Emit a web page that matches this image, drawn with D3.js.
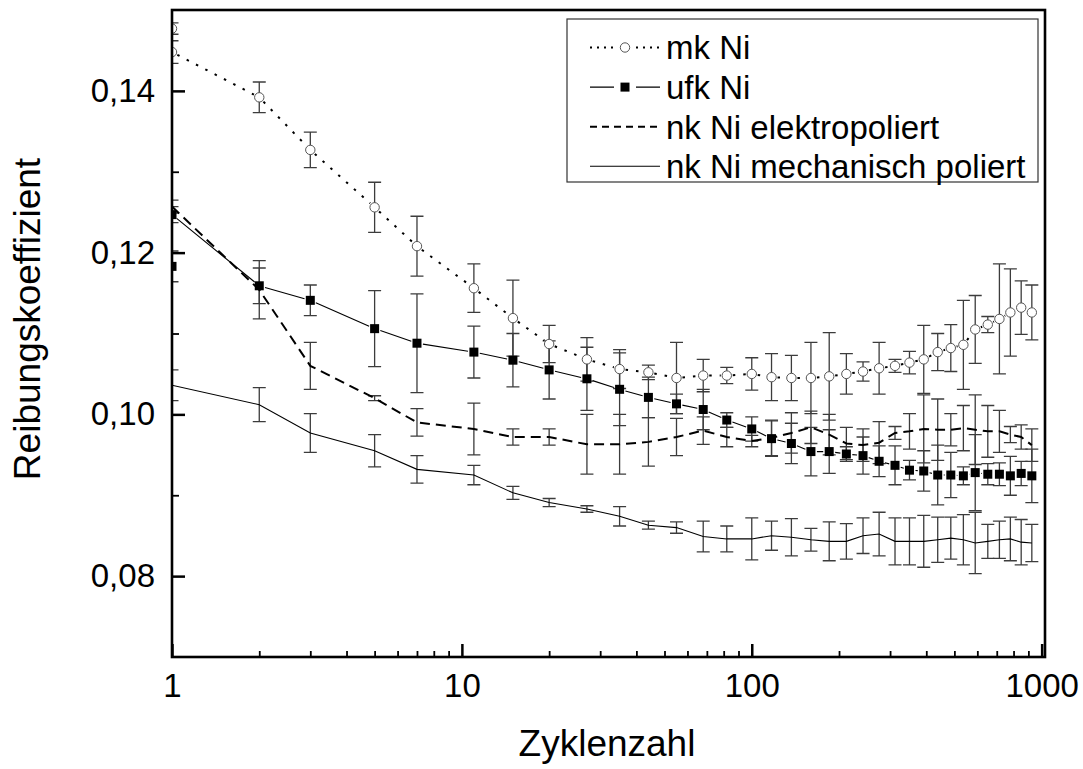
<!DOCTYPE html>
<html>
<head>
<meta charset="utf-8">
<script src="https://cdn.jsdelivr.net/npm/d3@7"></script>
<style>
  body { margin: 0; background: #fff; }
  svg { display: block; font-family: Arial, "Liberation Sans", sans-serif; }
</style>
</head>
<body>
<svg id="chart" width="1083" height="769"></svg>
<script>
/* CONSTANTS AND GLOBALS */
const width = 1083,
  height = 769,
  margin = { top: 10, right: 38, bottom: 112, left: 172 };

/* DATA */
// cycle numbers (Zyklenzahl) where the friction was measured
const cycles = [1, 2, 3, 5, 7, 11, 15, 20, 27, 35, 44, 55, 68, 82, 100, 117, 137, 160, 185,
  212, 242, 275, 312, 350, 392, 438, 486, 537, 590, 652, 715, 780, 850, 925];
// mk Ni and ufk Ni have two readings at cycle 1
const cyclesTwin = [1].concat(cycles);

const mkNi = [0.1477, 0.1448, 0.1392, 0.1327, 0.1256, 0.1208, 0.1156, 0.1119, 0.1087, 0.1068,
  0.1056, 0.1052, 0.1045, 0.1048, 0.1048, 0.1050, 0.1046, 0.1045, 0.1045, 0.1047, 0.1050,
  0.1053, 0.1057, 0.1060, 0.1064, 0.1068, 0.1077, 0.1082, 0.1086, 0.1105, 0.1111, 0.1118,
  0.1126, 0.1132, 0.1126];
const mkNiErr = [0.0007, 0.0014, 0.0019, 0.0022, 0.0031, 0.0037, 0.0030, 0.0047, 0.0023, 0.0027,
  0.0024, 0.0009, 0.0044, 0.0020, 0.0010, 0.0020, 0.0029, 0.0028, 0.0044, 0.0054, 0.0025,
  0.0012, 0.0032, 0.0008, 0.0014, 0.0042, 0.0023, 0.0029, 0.0055, 0.0042, 0.0010, 0.0068,
  0.0054, 0.0033, 0.0034];

const ufkNi = [0.1183, 0.1247, 0.1159, 0.1141, 0.1106, 0.1088, 0.1077, 0.1067, 0.1055, 0.1044,
  0.1031, 0.1021, 0.1013, 0.1006, 0.0993, 0.0982, 0.0970, 0.0964, 0.0954, 0.0954, 0.0951,
  0.0949, 0.0942, 0.0937, 0.0931, 0.0930, 0.0925, 0.0925, 0.0924, 0.0928, 0.0926, 0.0926,
  0.0924, 0.0927, 0.0924];
const ufkNiErr = [0.0019, 0.0010, 0.0022, 0.0019, 0.0047, 0.0061, 0.0032, 0.0033, 0.0036, 0.0039,
  0.0045, 0.0025, 0.0012, 0.0025, 0.0009, 0.0015, 0.0022, 0.0025, 0.0030, 0.0027, 0.0009,
  0.0023, 0.0019, 0.0024, 0.0012, 0.0025, 0.0037, 0.0028, 0.0011, 0.0047, 0.0013, 0.0014,
  0.0024, 0.0015, 0.0033];

const nkElektro = [0.1257, 0.1154, 0.1060, 0.1020, 0.0990, 0.0982, 0.0972, 0.0972, 0.0963, 0.0963,
  0.0966, 0.0972, 0.0980, 0.0972, 0.0967, 0.0971, 0.0977, 0.0984, 0.0975, 0.0964, 0.0962,
  0.0965, 0.0977, 0.0979, 0.0982, 0.0981, 0.0981, 0.0983, 0.0981, 0.0979, 0.0979, 0.0975,
  0.0972, 0.0962];
const nkElektroErr = [0.0008, 0.0036, 0.0029, 0.0003, 0.0017, 0.0032, 0.0010, 0.0010, 0.0037, 0.0037,
  0.0030, 0.0023, 0.0017, 0.0012, 0.0007, 0.0022, 0.0025, 0.0020, 0.0025, 0.0020, 0.0020,
  0.0026, 0.0008, 0.0022, 0.0042, 0.0038, 0.0020, 0.0028, 0.0043, 0.0032, 0.0026, 0.0010,
  0.0015, 0.0020];

const nkMech = [0.1036, 0.1012, 0.0977, 0.0955, 0.0932, 0.0925, 0.0903, 0.0891, 0.0883, 0.0874,
  0.0863, 0.0860, 0.0849, 0.0846, 0.0846, 0.0850, 0.0848, 0.0845, 0.0843, 0.0843, 0.0850,
  0.0852, 0.0843, 0.0843, 0.0843, 0.0845, 0.0847, 0.0845, 0.0841, 0.0843, 0.0845, 0.0846,
  0.0842, 0.0841];
const nkMechErr = [0.0019, 0.0021, 0.0024, 0.0020, 0.0017, 0.0012, 0.0008, 0.0005, 0.0004, 0.0012,
  0.0005, 0.0007, 0.0019, 0.0016, 0.0026, 0.0018, 0.0023, 0.0014, 0.0024, 0.0022, 0.0022,
  0.0027, 0.0029, 0.0029, 0.0032, 0.0028, 0.0026, 0.0031, 0.0038, 0.0021, 0.0023, 0.0027,
  0.0028, 0.0023];

const seriesNames = ["mk Ni", "ufk Ni", "nk Ni elektropoliert", "nk Ni mechanisch poliert"];

// tick values
const xMajorTicks = [1, 10, 100, 1000];
const xMinorTicks = [2, 3, 4, 5, 6, 7, 8, 9, 20, 30, 40, 50, 60, 70, 80, 90, 200, 300, 400, 500, 600, 700, 800, 900];
const yMajorTicks = [0.08, 0.10, 0.12, 0.14];
const yMinorTicks = [0.09, 0.11, 0.13];

/* SERIES TABLE (data + drawing style) */
const series = [
  { name: seriesNames[0], x: cyclesTwin, y: mkNi, err: mkNiErr, marker: "circle",
    width: 2, dash: "2.5,8", legendDash: "2,5" },
  { name: seriesNames[1], x: cyclesTwin, y: ufkNi, err: ufkNiErr, marker: "square",
    width: 1.1, dash: null, legendDash: null },
  { name: seriesNames[2], x: cycles, y: nkElektro, err: nkElektroErr, marker: null,
    width: 2, dash: "10,6", legendDash: "7,5" },
  { name: seriesNames[3], x: cycles, y: nkMech, err: nkMechErr, marker: null,
    width: 1.1, dash: null, legendDash: null }
];

/* SCALES */
const xScale = d3.scaleLog()
  .domain([1, 1027])
  .range([margin.left, width - margin.right]);

const yScale = d3.scaleLinear()
  .domain([0.07, 0.15])
  .range([height - margin.bottom, margin.top]);

const svg = d3.select("#chart");

svg.append("defs").append("clipPath")
  .attr("id", "plot-clip")
  .append("rect")
  .attr("x", margin.left)
  .attr("y", margin.top)
  .attr("width", width - margin.left - margin.right)
  .attr("height", height - margin.top - margin.bottom);

const plot = svg.append("g").attr("clip-path", "url(#plot-clip)");

/* ERROR BARS */
const capHalf = 6.5;
series.forEach(s => {
  const pts = s.x.map((c, i) => ({ c, v: s.y[i], e: s.err[i] }));
  const g = plot.append("g")
    .attr("stroke", "#3c3c3c")
    .attr("stroke-width", 1.3)
    .attr("fill", "none");
  g.selectAll("path")
    .data(pts)
    .join("path")
    .attr("d", d => {
      const x = xScale(d.c), y0 = yScale(d.v - d.e), y1 = yScale(d.v + d.e);
      return `M${x},${y0}V${y1}M${x - capHalf},${y1}H${x + capHalf}M${x - capHalf},${y0}H${x + capHalf}`;
    });
});

/* LINES */
// lines stop a little short of the symbols, like the original plot
function gappedPath(pts, gap) {
  if (!gap) return d3.line()(pts);
  let d = "";
  for (let i = 1; i < pts.length; i++) {
    const [x0, y0] = pts[i - 1], [x1, y1] = pts[i];
    const len = Math.hypot(x1 - x0, y1 - y0);
    if (len <= 2 * gap) continue;
    const ux = (x1 - x0) / len, uy = (y1 - y0) / len;
    d += `M${x0 + ux * gap},${y0 + uy * gap}L${x1 - ux * gap},${y1 - uy * gap}`;
  }
  return d;
}

series.forEach(s => {
  const pts = s.x.map((c, i) => [xScale(c), yScale(s.y[i])]);
  plot.append("path")
    .attr("d", gappedPath(pts, s.marker ? 6 : 0))
    .attr("fill", "none")
    .attr("stroke", "#000")
    .attr("stroke-width", s.width)
    .attr("stroke-dasharray", s.dash);
});

/* MARKERS */
function drawMarker(sel, type) {
  if (type === "circle") {
    sel.append("circle").attr("r", 4.7)
      .attr("fill", "#fff").attr("stroke", "#555").attr("stroke-width", 1);
  } else if (type === "square") {
    sel.append("rect").attr("x", -4.5).attr("y", -4.5).attr("width", 9).attr("height", 9)
      .attr("fill", "#000");
  }
}

series.filter(s => s.marker).forEach(s => {
  const pts = s.x.map((c, i) => ({ c, v: s.y[i] }));
  plot.append("g").selectAll("g")
    .data(pts)
    .join("g")
    .attr("transform", d => `translate(${xScale(d.c)},${yScale(d.v)})`)
    .each(function () { drawMarker(d3.select(this), s.marker); });
});

/* AXES */
const fmt = d => d3.format(".2f")(d).replace(".", ",");

const xAxisG = svg.append("g")
  .attr("transform", `translate(0,${height - margin.bottom})`)
  .call(d3.axisBottom(xScale).tickValues(xMajorTicks).tickSize(-13).tickPadding(17)
    .tickFormat(d3.format("d")));
svg.append("g")
  .attr("transform", `translate(0,${height - margin.bottom})`)
  .call(d3.axisBottom(xScale).tickValues(xMinorTicks).tickSize(-6).tickFormat(""))
  .call(g => g.selectAll("line").attr("stroke-width", 1.8));

const yAxisG = svg.append("g")
  .attr("transform", `translate(${margin.left},0)`)
  .call(d3.axisLeft(yScale).tickValues(yMajorTicks).tickSize(-13).tickPadding(17).tickFormat(fmt));
svg.append("g")
  .attr("transform", `translate(${margin.left},0)`)
  .call(d3.axisLeft(yScale).tickValues(yMinorTicks).tickSize(-7).tickFormat(""))
  .call(g => g.selectAll("line").attr("stroke-width", 1.8));

[xAxisG, yAxisG].forEach(g => {
  g.selectAll("line").attr("stroke-width", 2.5);
  g.selectAll("text").attr("font-size", 33).attr("fill", "#000")
    .attr("font-family", "Arial, 'Liberation Sans', sans-serif");
});
svg.selectAll(".domain").remove();

// frame round the plot
svg.append("rect")
  .attr("x", margin.left)
  .attr("y", margin.top)
  .attr("width", width - margin.left - margin.right)
  .attr("height", height - margin.top - margin.bottom)
  .attr("fill", "none")
  .attr("stroke", "#000")
  .attr("stroke-width", 2.6);

/* AXIS TITLES */
svg.append("text")
  .attr("x", 607)
  .attr("y", 756)
  .attr("text-anchor", "middle")
  .attr("font-size", 37)
  .text("Zyklenzahl");

svg.append("text")
  .attr("transform", "translate(40,319) rotate(-90)")
  .attr("text-anchor", "middle")
  .attr("font-size", 37)
  .text("Reibungskoeffizient");

/* LEGEND */
const legend = svg.append("g");
legend.append("rect")
  .attr("x", 567).attr("y", 19)
  .attr("width", 471).attr("height", 163)
  .attr("fill", "#fff")
  .attr("stroke", "#333")
  .attr("stroke-width", 1.2);

const legendRow = legend.selectAll("g.row")
  .data(series)
  .join("g")
  .attr("class", "row")
  .attr("transform", (d, i) => `translate(0,${47.5 + i * 39.6})`);

legendRow.append("path")
  .attr("d", d => d.marker ? "M590,0H614M636,0H660" : "M590,0H660")
  .attr("fill", "none")
  .attr("stroke", "#000")
  .attr("stroke-width", d => d.width)
  .attr("stroke-dasharray", d => d.legendDash);

legendRow.filter(d => d.marker)
  .append("g")
  .attr("transform", "translate(625,0)")
  .each(function (d) { drawMarker(d3.select(this), d.marker); });

legendRow.append("text")
  .attr("x", 666)
  .attr("dy", "0.36em")
  .attr("font-size", 33)
  .text(d => d.name);
</script>
</body>
</html>
